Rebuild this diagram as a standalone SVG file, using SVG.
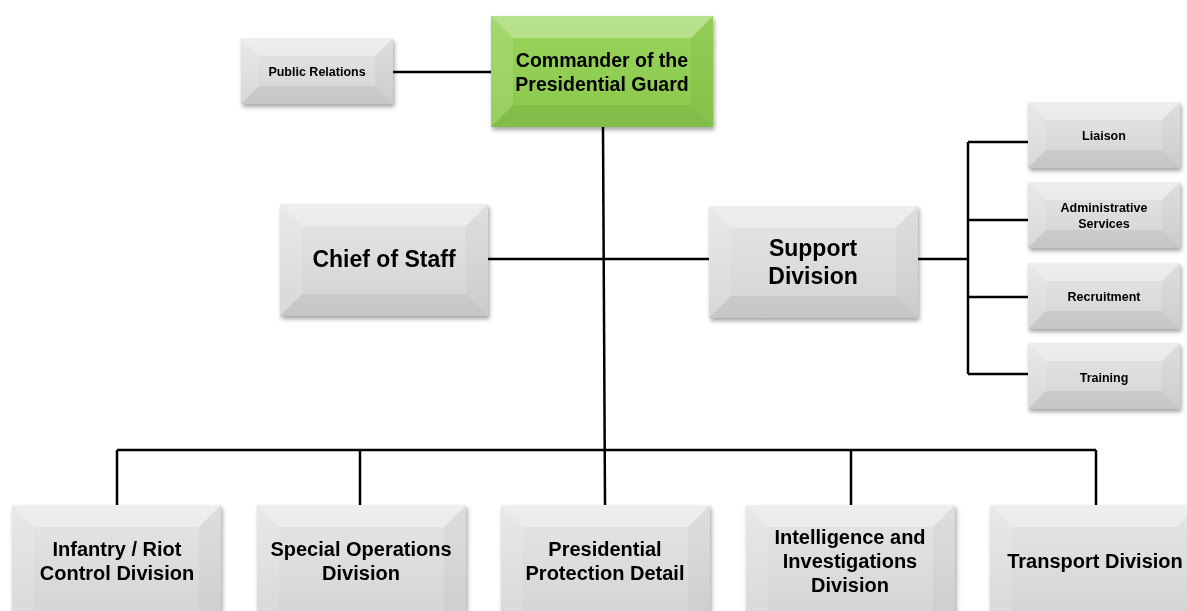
<svg xmlns="http://www.w3.org/2000/svg" width="1187" height="611" viewBox="0 0 1187 611">
<defs>
<linearGradient id="gray" x1="0" y1="0" x2="0" y2="1">
<stop offset="0" stop-color="#e6e6e6"/>
<stop offset="1" stop-color="#d3d3d3"/>
</linearGradient>
<linearGradient id="green" x1="0" y1="0" x2="0" y2="1">
<stop offset="0" stop-color="#98d45a"/>
<stop offset="1" stop-color="#8ac84c"/>
</linearGradient>
<filter id="sh" x="-10%" y="-10%" width="125%" height="130%">
<feDropShadow dx="1.5" dy="3" stdDeviation="2" flood-color="#000" flood-opacity="0.35"/>
</filter>
</defs>
<style>
.face{fill:url(#gray)}
.gface{fill:url(#green)}
.bt{fill:#fff;fill-opacity:.32}
.bl{fill:#fff;fill-opacity:.12}
.br{fill:#000;fill-opacity:.03}
.bb{fill:#000;fill-opacity:.06}
.conn{fill:none;stroke:#000;stroke-width:2.5}
text{font-family:"Liberation Sans",Arial,sans-serif;font-weight:bold;fill:#000;text-anchor:middle}
.s{font-size:12.5px}
.m{font-size:20px}
.c{font-size:19.5px}
.l{font-size:23px}
</style>
<rect width="1187" height="611" fill="#fff"/>

<g id="connectors">
<path class="conn" d="M393,72 H491"/>
<path class="conn" d="M603,127 L605,505"/>
<path class="conn" d="M488,259 H709"/>
<path class="conn" d="M918,259 H968"/>
<path class="conn" d="M968,142 V374"/>
<path class="conn" d="M968,142 H1028 M968,220 H1028 M968,297 H1028 M968,374 H1028"/>
<path class="conn" d="M117,450 H1096"/>
<path class="conn" d="M117,450 V505 M360,450 V505 M851,450 V505 M1096,450 V505"/>
</g>

<g id="public-relations" filter="url(#sh)">
<rect class="face" x="241" y="38" width="152" height="66"/>
<polygon class="bt" points="241,38 393,38 375,56 259,56"/>
<polygon class="bl" points="241,38 259,56 259,86 241,104"/>
<polygon class="br" points="393,38 393,104 375,86 375,56"/>
<polygon class="bb" points="241,104 393,104 375,86 259,86"/>
<text class="s" x="317" y="76">Public Relations</text>
</g>

<g id="commander" filter="url(#sh)">
<rect class="gface" x="491" y="16" width="222" height="111"/>
<polygon class="bt" points="491,16 713,16 691,38 513,38"/>
<polygon class="bl" points="491,16 513,38 513,105 491,127"/>
<polygon class="br" points="713,16 713,127 691,105 691,38"/>
<polygon class="bb" points="491,127 713,127 691,105 513,105"/>
<text class="c" x="602" y="67">Commander of the</text>
<text class="c" x="602" y="91">Presidential Guard</text>
</g>

<g id="chief-of-staff" filter="url(#sh)">
<rect class="face" x="280" y="204" width="208" height="112"/>
<polygon class="bt" points="280,204 488,204 466,226 302,226"/>
<polygon class="bl" points="280,204 302,226 302,294 280,316"/>
<polygon class="br" points="488,204 488,316 466,294 466,226"/>
<polygon class="bb" points="280,316 488,316 466,294 302,294"/>
<text class="l" x="384" y="267">Chief of Staff</text>
</g>

<g id="support-division" filter="url(#sh)">
<rect class="face" x="709" y="206" width="209" height="112"/>
<polygon class="bt" points="709,206 918,206 896,228 731,228"/>
<polygon class="bl" points="709,206 731,228 731,296 709,318"/>
<polygon class="br" points="918,206 918,318 896,296 896,228"/>
<polygon class="bb" points="709,318 918,318 896,296 731,296"/>
<text class="l" x="813" y="256">Support</text>
<text class="l" x="813" y="284">Division</text>
</g>

<g id="liaison" filter="url(#sh)">
<rect class="face" x="1028" y="102" width="152" height="66"/>
<polygon class="bt" points="1028,102 1180,102 1162,120 1046,120"/>
<polygon class="bl" points="1028,102 1046,120 1046,150 1028,168"/>
<polygon class="br" points="1180,102 1180,168 1162,150 1162,120"/>
<polygon class="bb" points="1028,168 1180,168 1162,150 1046,150"/>
<text class="s" x="1104" y="140">Liaison</text>
</g>

<g id="administrative-services" filter="url(#sh)">
<rect class="face" x="1028" y="182" width="152" height="66"/>
<polygon class="bt" points="1028,182 1180,182 1162,200 1046,200"/>
<polygon class="bl" points="1028,182 1046,200 1046,230 1028,248"/>
<polygon class="br" points="1180,182 1180,248 1162,230 1162,200"/>
<polygon class="bb" points="1028,248 1180,248 1162,230 1046,230"/>
<text class="s" x="1104" y="212">Administrative</text>
<text class="s" x="1104" y="228">Services</text>
</g>

<g id="recruitment" filter="url(#sh)">
<rect class="face" x="1028" y="263" width="152" height="66"/>
<polygon class="bt" points="1028,263 1180,263 1162,281 1046,281"/>
<polygon class="bl" points="1028,263 1046,281 1046,311 1028,329"/>
<polygon class="br" points="1180,263 1180,329 1162,311 1162,281"/>
<polygon class="bb" points="1028,329 1180,329 1162,311 1046,311"/>
<text class="s" x="1104" y="301">Recruitment</text>
</g>

<g id="training" filter="url(#sh)">
<rect class="face" x="1028" y="343" width="152" height="66"/>
<polygon class="bt" points="1028,343 1180,343 1162,361 1046,361"/>
<polygon class="bl" points="1028,343 1046,361 1046,391 1028,409"/>
<polygon class="br" points="1180,343 1180,409 1162,391 1162,361"/>
<polygon class="bb" points="1028,409 1180,409 1162,391 1046,391"/>
<text class="s" x="1104" y="382">Training</text>
</g>

<g id="infantry-riot-control" filter="url(#sh)">
<rect class="face" x="12" y="505" width="209" height="120"/>
<polygon class="bt" points="12,505 221,505 199,527 34,527"/>
<polygon class="bl" points="12,505 34,527 34,625 12,625"/>
<polygon class="br" points="221,505 221,625 199,625 199,527"/>
<text class="m" x="117" y="556">Infantry / Riot</text>
<text class="m" x="117" y="580">Control Division</text>
</g>

<g id="special-operations" filter="url(#sh)">
<rect class="face" x="257" y="505" width="209" height="120"/>
<polygon class="bt" points="257,505 466,505 444,527 279,527"/>
<polygon class="bl" points="257,505 279,527 279,625 257,625"/>
<polygon class="br" points="466,505 466,625 444,625 444,527"/>
<text class="m" x="361" y="556">Special Operations</text>
<text class="m" x="361" y="580">Division</text>
</g>

<g id="presidential-protection" filter="url(#sh)">
<rect class="face" x="501" y="505" width="209" height="120"/>
<polygon class="bt" points="501,505 710,505 688,527 523,527"/>
<polygon class="bl" points="501,505 523,527 523,625 501,625"/>
<polygon class="br" points="710,505 710,625 688,625 688,527"/>
<text class="m" x="605" y="556">Presidential</text>
<text class="m" x="605" y="580">Protection Detail</text>
</g>

<g id="intelligence-investigations" filter="url(#sh)">
<rect class="face" x="746" y="505" width="209" height="120"/>
<polygon class="bt" points="746,505 955,505 933,527 768,527"/>
<polygon class="bl" points="746,505 768,527 768,625 746,625"/>
<polygon class="br" points="955,505 955,625 933,625 933,527"/>
<text class="m" x="850" y="544">Intelligence and</text>
<text class="m" x="850" y="568">Investigations</text>
<text class="m" x="850" y="592">Division</text>
</g>

<g id="transport-division" filter="url(#sh)">
<rect class="face" x="990" y="505" width="209" height="120"/>
<polygon class="bt" points="990,505 1199,505 1177,527 1012,527"/>
<polygon class="bl" points="990,505 1012,527 1012,625 990,625"/>
<text class="m" x="1095" y="568">Transport Division</text>
</g>
</svg>
